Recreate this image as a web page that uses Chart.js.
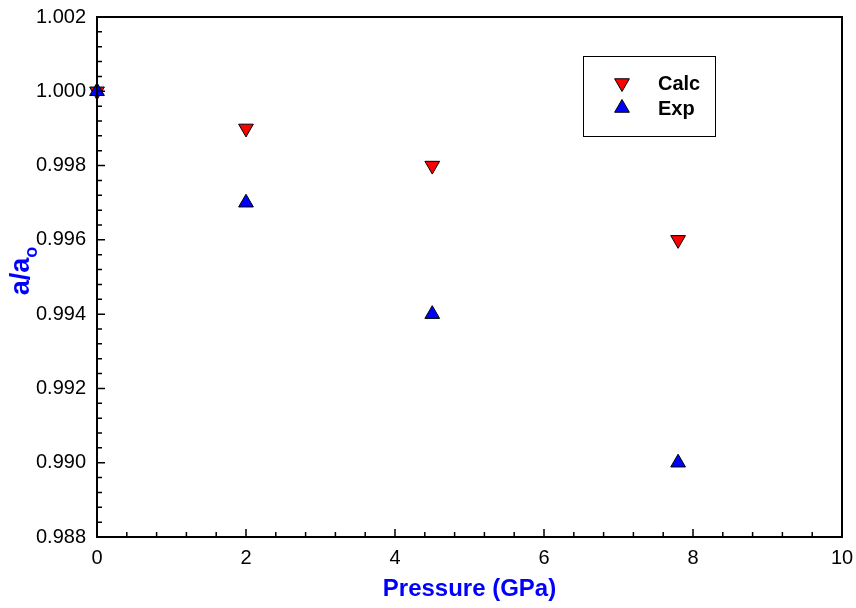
<!DOCTYPE html>
<html>
<head>
<meta charset="utf-8">
<script src="https://cdn.jsdelivr.net/npm/chart.js@4"></script>
<style>
  html, body { margin: 0; padding: 0; background: #fff; }
  #wrap { width: 856px; height: 608px; position: relative; }
</style>
</head>
<body>
<div id="wrap"><canvas id="latticeChart"></canvas></div>
<script>
// data
const pressure = [0, 2, 4.5, 7.8];
const calcRatio = [1.000, 0.999, 0.998, 0.996];
const expRatio = [1.000, 0.997, 0.994, 0.990];
const xTicks = [0, 2, 4, 6, 8, 10];
const yTicks = [0.988, 0.990, 0.992, 0.994, 0.996, 0.998, 1.000, 1.002];
const seriesNames = ['Calc', 'Exp'];

const FONT = '"Liberation Sans", Arial, sans-serif';
const TITLE_BLUE = '#0000ff';

const toPoints = (xs, ys) => xs.map((x, i) => ({ x: x, y: ys[i] }));

// frame, inward major/minor ticks, y title with subscript, legend box
const decorPlugin = {
    id: 'decor',
    afterDatasetsDraw(chart) {
        const ctx = chart.ctx;
        const a = chart.chartArea;
        const xs = chart.scales.x;
        const ys = chart.scales.y;
        ctx.save();
        ctx.strokeStyle = '#000';
        ctx.lineWidth = 2;
        ctx.strokeRect(a.left, a.top, a.right - a.left, a.bottom - a.top);

        ctx.lineWidth = 1.5;
        ctx.beginPath();
        for (let i = 0; i < xTicks.length; i++) {
            const px = xs.getPixelForValue(xTicks[i]);
            ctx.moveTo(px, a.bottom); ctx.lineTo(px, a.bottom - 8);
            if (i < xTicks.length - 1) {
                const step = (xTicks[i + 1] - xTicks[i]) / 5;
                for (let k = 1; k < 5; k++) {
                    const mx = xs.getPixelForValue(xTicks[i] + k * step);
                    ctx.moveTo(mx, a.bottom); ctx.lineTo(mx, a.bottom - 5);
                }
            }
        }
        for (let i = 0; i < yTicks.length; i++) {
            const py = ys.getPixelForValue(yTicks[i]);
            ctx.moveTo(a.left, py); ctx.lineTo(a.left + 8, py);
            if (i < yTicks.length - 1) {
                const step = (yTicks[i + 1] - yTicks[i]) / 5;
                for (let k = 1; k < 5; k++) {
                    const my = ys.getPixelForValue(yTicks[i] + k * step);
                    ctx.moveTo(a.left, my); ctx.lineTo(a.left + 5, my);
                }
            }
        }
        ctx.stroke();

        // y axis title a/a_o
        ctx.save();
        ctx.translate(29, 271);
        ctx.rotate(-Math.PI / 2);
        ctx.fillStyle = TITLE_BLUE;
        ctx.textBaseline = 'alphabetic';
        ctx.font = 'bold 27px ' + FONT;
        const main = 'a/a';
        const wMain = ctx.measureText(main).width;
        ctx.font = 'bold 18px ' + FONT;
        const wSub = ctx.measureText('o').width;
        const start = -(wMain + wSub) / 2;
        ctx.font = 'bold 27px ' + FONT;
        ctx.textAlign = 'left';
        ctx.fillText(main, start, 0);
        ctx.font = 'bold 18px ' + FONT;
        ctx.fillText('o', start + wMain, 8);
        ctx.restore();

        // legend box
        ctx.lineWidth = 1;
        ctx.strokeStyle = '#000';
        ctx.strokeRect(583.5, 56.5, 132, 80);
        const rows = [83, 108];
        chart.data.datasets.forEach((ds, i) => {
            const y = rows[i];
            ctx.save();
            ctx.translate(622, y);
            ctx.rotate((ds.pointRotation || 0) * Math.PI / 180);
            const r = 8.5;
            ctx.beginPath();
            for (let k = 0; k < 3; k++) {
                const ang = k * 2 * Math.PI / 3;
                const px = Math.sin(ang) * r, py = -Math.cos(ang) * r;
                if (k === 0) ctx.moveTo(px, py); else ctx.lineTo(px, py);
            }
            ctx.closePath();
            ctx.fillStyle = ds.backgroundColor;
            ctx.fill();
            ctx.lineWidth = 1;
            ctx.strokeStyle = '#000';
            ctx.stroke();
            ctx.restore();
            ctx.fillStyle = '#000';
            ctx.font = 'bold 20px ' + FONT;
            ctx.textAlign = 'left';
            ctx.textBaseline = 'middle';
            ctx.fillText(ds.label, 658, y + 1);
        });
        ctx.restore();
    }
};

new Chart(document.getElementById('latticeChart'), {
    type: 'scatter',
    data: {
        datasets: [
            {
                label: seriesNames[0],
                data: toPoints(pressure, calcRatio),
                pointStyle: 'triangle',
                pointRotation: 180,
                pointRadius: 8.5,
                pointHoverRadius: 8.5,
                backgroundColor: '#ff0000',
                borderColor: '#000',
                borderWidth: 1,
                clip: false,
                order: 1
            },
            {
                label: seriesNames[1],
                data: toPoints(pressure, expRatio),
                pointStyle: 'triangle',
                pointRotation: 0,
                pointRadius: 8.5,
                pointHoverRadius: 8.5,
                backgroundColor: '#0000ff',
                borderColor: '#000',
                borderWidth: 1,
                clip: false,
                order: 0
            }
        ]
    },
    options: {
        responsive: true,
        maintainAspectRatio: false,
        animation: false,
        layout: { padding: { left: 0, right: 14, top: 17, bottom: 0 } },
        plugins: {
            legend: { display: false },
            tooltip: { enabled: false }
        },
        scales: {
            x: {
                type: 'linear',
                min: 0,
                max: 10,
                afterBuildTicks: s => { s.ticks = xTicks.map(v => ({ value: v })); },
                afterFit: s => {
                    s.height = 71;
                    s.paddingLeft = 0;
                    s.paddingRight = 0;
                },
                grid: { display: false, drawTicks: false },
                border: { display: false },
                ticks: {
                    color: '#000',
                    padding: 9,
                    maxRotation: 0,
                    font: { family: FONT, size: 20 },
                    callback: v => String(v)
                },
                title: {
                    display: true,
                    text: 'Pressure (GPa)',
                    color: TITLE_BLUE,
                    font: { family: FONT, size: 24, weight: 'bold' },
                    padding: { top: 3, bottom: 4 }
                }
            },
            y: {
                type: 'linear',
                min: 0.988,
                max: 1.002,
                afterBuildTicks: s => { s.ticks = yTicks.map(v => ({ value: v })); },
                afterFit: s => {
                    s.width = 97;
                    s.paddingTop = 0;
                    s.paddingBottom = 0;
                },
                grid: { display: false, drawTicks: false },
                border: { display: false },
                ticks: {
                    color: '#000',
                    padding: 11,
                    font: { family: FONT, size: 20 },
                    callback: v => Number(v).toFixed(3)
                }
            }
        }
    },
    plugins: [decorPlugin]
});
</script>
</body>
</html>
